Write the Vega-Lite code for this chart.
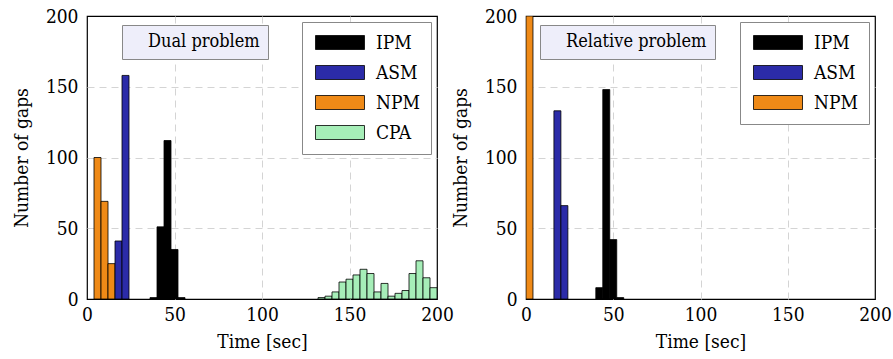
{
  "$schema": "https://vega.github.io/schema/vega-lite/v6.json",
  "background": "white",
  "padding": {"left": 11, "top": 6, "right": 0, "bottom": 0},
  "config": {
    "font": "DejaVu Serif Condensed, DejaVu Serif",
    "view": {"stroke": "black", "strokeWidth": 1.2},
    "scale": {"continuousPadding": 0},
    "axis": {
      "labelFont": "DejaVu Serif Condensed, DejaVu Serif", "labelFontSize": 19, "labelColor": "black",
      "titleFont": "DejaVu Serif Condensed, DejaVu Serif", "titleFontSize": 19, "titleFontWeight": "normal", "titleColor": "black",
      "ticks": false, "domain": false, "grid": true, "gridColor": "#d4d4d4", "gridDash": [7, 5], "gridWidth": 1,
      "gridOpacity": {"condition": {"test": "datum.value === 0 || datum.value === 200", "value": 0}, "value": 1},
      "labelFlush": false, "labelOverlap": false
    },
    "axisX": {"labelPadding": 6, "titlePadding": 8},
    "axisY": {"labelPadding": 9, "titlePadding": 14},
    "legend": {
      "labelFont": "DejaVu Serif Condensed, DejaVu Serif", "labelFontSize": 19, "labelColor": "black",
      "fillColor": "white", "strokeColor": "#888888", "padding": 11,
      "symbolType": "M-1,-1H6V1H-1Z", "symbolSize": 196, "symbolStrokeColor": "black", "symbolStrokeWidth": 0.8,
      "labelOffset": 44, "rowPadding": 10
    },
    "concat": {"spacing": 89}
  },
  "datasets": {
    "dual": [
      {"method": "NPM", "start": 4, "end": 8, "count": 100},
      {"method": "NPM", "start": 8, "end": 12, "count": 69},
      {"method": "NPM", "start": 12, "end": 16, "count": 25},
      {"method": "ASM", "start": 16, "end": 20, "count": 41},
      {"method": "ASM", "start": 20, "end": 24, "count": 158},
      {"method": "IPM", "start": 36, "end": 40, "count": 1},
      {"method": "IPM", "start": 40, "end": 44, "count": 51},
      {"method": "IPM", "start": 44, "end": 48, "count": 112},
      {"method": "IPM", "start": 48, "end": 52, "count": 35},
      {"method": "IPM", "start": 52, "end": 56, "count": 1},
      {"method": "CPA", "start": 132, "end": 136, "count": 1},
      {"method": "CPA", "start": 136, "end": 140, "count": 2},
      {"method": "CPA", "start": 140, "end": 144, "count": 5},
      {"method": "CPA", "start": 144, "end": 148, "count": 12},
      {"method": "CPA", "start": 148, "end": 152, "count": 14},
      {"method": "CPA", "start": 152, "end": 156, "count": 17},
      {"method": "CPA", "start": 156, "end": 160, "count": 21},
      {"method": "CPA", "start": 160, "end": 164, "count": 18},
      {"method": "CPA", "start": 164, "end": 168, "count": 5},
      {"method": "CPA", "start": 168, "end": 172, "count": 11},
      {"method": "CPA", "start": 172, "end": 176, "count": 2},
      {"method": "CPA", "start": 176, "end": 180, "count": 4},
      {"method": "CPA", "start": 180, "end": 184, "count": 6},
      {"method": "CPA", "start": 184, "end": 188, "count": 18},
      {"method": "CPA", "start": 188, "end": 192, "count": 27},
      {"method": "CPA", "start": 192, "end": 196, "count": 15},
      {"method": "CPA", "start": 196, "end": 200, "count": 8}
    ],
    "relative": [
      {"method": "NPM", "start": 0, "end": 4, "count": 200},
      {"method": "ASM", "start": 16, "end": 20, "count": 133},
      {"method": "ASM", "start": 20, "end": 24, "count": 66},
      {"method": "IPM", "start": 40, "end": 44, "count": 8},
      {"method": "IPM", "start": 44, "end": 48, "count": 148},
      {"method": "IPM", "start": 48, "end": 52, "count": 42},
      {"method": "IPM", "start": 52, "end": 56, "count": 1}
    ],
    "dualLabel": [{"t": "Dual problem"}],
    "relLabel": [{"t": "Relative problem"}]
  },
  "bounds": "flush",
  "resolve": {
    "scale": {"color": "independent", "shape": "independent"},
    "legend": {"color": "independent", "shape": "independent"}
  },
  "hconcat": [
    {
      "width": 350,
      "height": 283,
      "layer": [
        {
          "data": {"name": "dual"},
          "mark": {"type": "bar", "stroke": "black", "strokeWidth": 0.8, "clip": true},
          "encoding": {
            "x": {"field": "start", "type": "quantitative", "scale": {"domain": [0, 200], "nice": false, "padding": 0},
                  "axis": {"values": [0, 50, 100, 150, 200], "title": "Time [sec]"}},
            "x2": {"field": "end"},
            "y": {"field": "count", "type": "quantitative", "stack": null, "scale": {"domain": [0, 200], "nice": false, "padding": 0},
                  "axis": {"values": [0, 50, 100, 150, 200], "title": "Number of gaps"}},
            "y2": {"datum": 0},
            "color": {"field": "method", "type": "nominal",
                      "scale": {"domain": ["IPM", "ASM", "NPM", "CPA"], "range": ["#000000", "#2b2ba8", "#ef8a17", "#a6eeb8"]},
                      "legend": {"title": null, "orient": "top-right", "offset": 6}}
          }
        },
        {
          "data": {"name": "dualLabel"},
          "mark": {"type": "point", "opacity": 0},
          "encoding": {
            "shape": {"field": "t", "type": "nominal",
                      "legend": {"title": null, "orient": "none", "legendX": 35, "legendY": 9,
                                 "symbolType": "circle", "symbolSize": 0, "symbolOpacity": 0, "labelOffset": 0,
                                 "labelFontSize": 18,
                                 "fillColor": "#eeeefa", "strokeColor": "#888888", "padding": 8}}
          }
        }
      ]
    },
    {
      "width": 349,
      "height": 283,
      "layer": [
        {
          "data": {"name": "relative"},
          "mark": {"type": "bar", "stroke": "black", "strokeWidth": 0.8, "clip": true},
          "encoding": {
            "x": {"field": "start", "type": "quantitative", "scale": {"domain": [0, 200], "nice": false, "padding": 0},
                  "axis": {"values": [0, 50, 100, 150, 200], "title": "Time [sec]"}},
            "x2": {"field": "end"},
            "y": {"field": "count", "type": "quantitative", "stack": null, "scale": {"domain": [0, 200], "nice": false, "padding": 0},
                  "axis": {"values": [0, 50, 100, 150, 200], "title": "Number of gaps"}},
            "y2": {"datum": 0},
            "color": {"field": "method", "type": "nominal",
                      "scale": {"domain": ["IPM", "ASM", "NPM"], "range": ["#000000", "#2b2ba8", "#ef8a17"]},
                      "legend": {"title": null, "orient": "top-right", "offset": 6}}
          }
        },
        {
          "data": {"name": "relLabel"},
          "mark": {"type": "point", "opacity": 0},
          "encoding": {
            "shape": {"field": "t", "type": "nominal",
                      "legend": {"title": null, "orient": "none", "legendX": 14, "legendY": 9,
                                 "symbolType": "circle", "symbolSize": 0, "symbolOpacity": 0, "labelOffset": 0,
                                 "labelFontSize": 18,
                                 "fillColor": "#eeeefa", "strokeColor": "#888888", "padding": 8}}
          }
        }
      ]
    }
  ]
}
